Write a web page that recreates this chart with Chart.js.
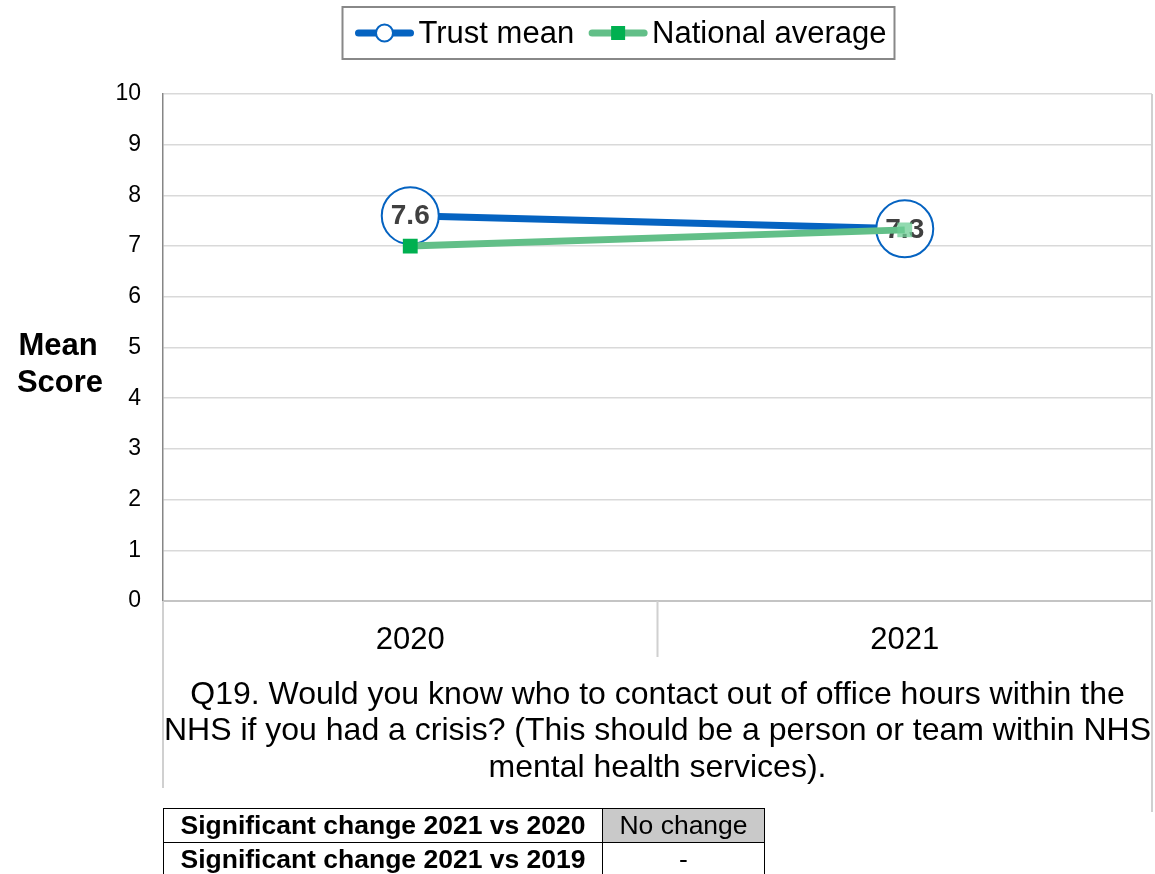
<!DOCTYPE html>
<html><head><meta charset="utf-8">
<script src="https://cdn.jsdelivr.net/npm/chart.js@4/dist/chart.umd.min.js"></script>
<style>
html,body{margin:0;padding:0;background:#fff;}
#wrap{position:relative;width:1155px;height:874px;overflow:hidden;}
#sig{position:absolute;left:163px;top:808px;border-collapse:collapse;font-family:"Liberation Sans",Arial,sans-serif;font-size:26.5px;}
#sig td{border:1.5px solid #000;height:33px;padding:0;text-align:center;line-height:1;}
#sig td.lab{width:438px;font-weight:bold;}
#sig td.val{width:161px;}
</style></head><body>
<div id="wrap"><canvas id="c" width="1155" height="874"></canvas>
<table id="sig"></table></div>
<script>
const categories = ['2020', '2021'];
const trustMean = [7.6, 7.34];
const nationalAverage = [7.0, 7.32];
const seriesNames = ['Trust mean', 'National average'];
const yAxisLabel = ['Mean', 'Score'];
const questionLines = [
  'Q19. Would you know who to contact out of office hours within the',
  'NHS if you had a crisis? (This should be a person or team within NHS',
  'mental health services).'
];
const tableLabels = ['Significant change 2021 vs 2020', 'Significant change 2021 vs 2019'];
const tableValues = ['No change', '-'];
const tableShaded = [true, false];

const FONT = '"Liberation Sans", Arial, sans-serif';

// build table
const tbl = document.getElementById('sig');
tableLabels.forEach((l, i) => {
  const tr = document.createElement('tr');
  const a = document.createElement('td'); a.className = 'lab'; a.textContent = l;
  const b = document.createElement('td'); b.className = 'val'; b.textContent = tableValues[i];
  if (tableShaded[i]) b.style.background = '#C9C9C9';
  tr.appendChild(a); tr.appendChild(b); tbl.appendChild(tr);
});

const BLUE = '#0563C1', GREEN_LINE = '#62BF88', GREEN_PT = '#00B050';

const labelPlugin = {
  id: 'valLabels',
  afterDatasetDraw(chart, args) {
    if (args.index !== 0) return;
    const ctx = chart.ctx; ctx.save();
    ctx.font = 'bold 28px ' + FONT; ctx.fillStyle = '#404040';
    ctx.textAlign = 'center'; ctx.textBaseline = 'middle';
    args.meta.data.forEach((pt, i) => {
      ctx.fillText(trustMean[i].toFixed(1), pt.x, pt.y + 1);
    });
    ctx.restore();
  }
};

const decoPlugin = {
  id: 'deco',
  afterDraw(chart) {
    const ctx = chart.ctx, a = chart.chartArea, xs = chart.scales.x;
    ctx.save();
    // frame lines
    ctx.strokeStyle = '#D0D0D0'; ctx.lineWidth = 2;
    ctx.beginPath();
    ctx.moveTo(a.right, a.top); ctx.lineTo(a.right, 812);
    ctx.moveTo(a.left, a.bottom); ctx.lineTo(a.left, 788);
    const mid = (xs.getPixelForValue(0) + xs.getPixelForValue(1)) / 2;
    ctx.moveTo(mid, a.bottom); ctx.lineTo(mid, a.bottom + 56);
    ctx.stroke();
    // y axis label
    ctx.fillStyle = '#000'; ctx.textAlign = 'center'; ctx.textBaseline = 'middle';
    ctx.font = 'bold 31px ' + FONT;
    ctx.fillText(yAxisLabel[0], 58, 346);
    ctx.fillText(yAxisLabel[1], 60, 383);
    // question
    ctx.font = '32px ' + FONT;
    const cx = (a.left + a.right) / 2;
    questionLines.forEach((t, i) => ctx.fillText(t, cx, 695 + i * 36.5));
    // legend
    ctx.font = '31px ' + FONT;
    const ds = chart.data.datasets;
    const lineW = 58, gapT = 5, gapI = 15;
    const widths = ds.map(d => ctx.measureText(d.label).width);
    let total = widths.reduce((s, w) => s + w + lineW + gapT, 0) + gapI * (ds.length - 1);
    let x = 621 - total / 2; const y = 33;
    ctx.strokeStyle = '#888'; ctx.lineWidth = 2;
    ctx.strokeRect(x - 13, 7, total + 21, 52);
    ds.forEach((d, i) => {
      ctx.strokeStyle = d.borderColor; ctx.lineWidth = d.borderWidth; ctx.lineCap = 'round';
      ctx.beginPath(); ctx.moveTo(x + 3, y); ctx.lineTo(x + lineW - 3, y); ctx.stroke();
      const mx = x + lineW / 2;
      if (d.pointStyle === 'circle') {
        ctx.beginPath(); ctx.arc(mx, y, 8.5, 0, Math.PI * 2);
        ctx.fillStyle = '#fff'; ctx.fill(); ctx.lineWidth = 2; ctx.strokeStyle = d.pointBorderColor; ctx.stroke();
      } else {
        ctx.fillStyle = GREEN_PT; ctx.fillRect(mx - 7, y - 7, 14, 14);
      }
      ctx.fillStyle = '#000'; ctx.textAlign = 'left';
      ctx.fillText(d.label, x + lineW + gapT, y + 1);
      x += lineW + gapT + widths[i] + gapI;
    });
    ctx.restore();
  }
};

new Chart(document.getElementById('c'), {
  type: 'line',
  data: {
    labels: categories,
    datasets: [
      {
        label: seriesNames[0], data: trustMean, order: 2,
        borderColor: BLUE, borderWidth: 7,
        pointStyle: 'circle', pointRadius: 28.5, pointBackgroundColor: '#fff',
        pointBorderColor: BLUE, pointBorderWidth: 2, pointHoverRadius: 28.5
      },
      {
        label: seriesNames[1], data: nationalAverage, order: 1,
        borderColor: GREEN_LINE, borderWidth: 7,
        pointStyle: 'rect', pointRadius: 10.5,
        pointBackgroundColor: [GREEN_PT, 'rgba(110,205,150,0.75)'],
        pointBorderColor: [GREEN_PT, 'rgba(110,205,150,0)'], pointBorderWidth: 0, pointHoverRadius: 10.5
      }
    ]
  },
  options: {
    responsive: false, animation: false,
    layout: { autoPadding: false, padding: { top: 94, right: 3, left: 0, bottom: 0 } },
    plugins: { legend: { display: false }, tooltip: { enabled: false } },
    scales: {
      x: {
        offset: true,
        grid: { display: false },
        border: { display: false },
        ticks: { font: { family: FONT, size: 31 }, color: '#000', padding: 13 },
        afterFit(s) { s.height = 273; s.paddingLeft = 0; s.paddingRight = 0; }
      },
      y: {
        min: 0, max: 10,
        ticks: { stepSize: 1, font: { family: FONT, size: 23 }, color: '#000', padding: 22 },
        grid: {
          drawTicks: false,
          color: c => c.tick && c.tick.value === 0 ? '#C4C4C4' : '#D9D9D9',
          lineWidth: c => c.tick && c.tick.value === 0 ? 2 : 1.5
        },
        border: { color: '#868686', width: 1.5 },
        afterFit(s) { s.width = 163; }
      }
    }
  },
  plugins: [labelPlugin, decoPlugin]
});
</script>
</body></html>
